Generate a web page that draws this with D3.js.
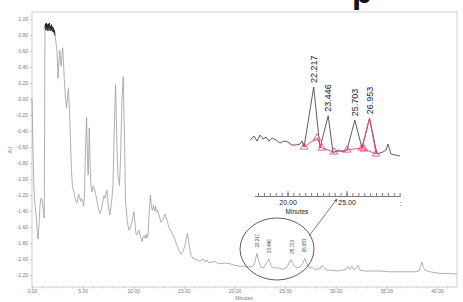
<!DOCTYPE html>
<html>
<head>
<meta charset="utf-8">
<script src="https://cdn.jsdelivr.net/npm/d3@7"></script>
<style>
  body { margin: 0; background: #fff; }
  svg { display: block; font-family: "Liberation Sans", Arial, sans-serif; }
</style>
</head>
<body>
<div id="chart"></div>
<script>
// full chromatogram, [minutes, AU]
let trace = [
  [0.00, 0.01], [0.10, -0.64], [0.20, -1.14], [0.30, -1.33], [0.40, -1.45], [0.49, -1.61],
  [0.59, -1.75], [0.69, -1.58], [0.79, -1.33], [0.89, -1.24], [0.99, -1.26], [1.09, -1.36],
  [1.21, -1.49], [1.28, 0.89], [1.33, 0.94], [1.38, 0.86], [1.43, 0.95], [1.48, 0.88],
  [1.53, 0.93], [1.58, 0.85], [1.63, 0.94], [1.68, 0.89], [1.73, 0.95], [1.78, 0.86],
  [1.83, 0.91], [1.88, 0.85], [1.93, 0.93], [1.98, 0.88], [2.02, 0.90], [2.07, 0.84],
  [2.12, 0.89], [2.17, 0.83], [2.22, 0.86], [2.27, 0.79], [2.37, 0.71], [2.47, 0.59],
  [2.57, 0.26], [2.67, 0.49], [2.74, 0.61], [2.81, 0.51], [2.88, 0.41], [2.96, 0.55],
  [3.03, 0.64], [3.11, 0.46], [3.19, 0.24], [3.29, 0.05], [3.41, -0.11], [3.49, -0.01],
  [3.60, 0.13], [3.70, -0.14], [3.80, -0.51], [3.90, -0.89], [4.00, -1.11], [4.10, -1.14],
  [4.20, -1.21], [4.30, -1.26], [4.40, -1.30], [4.49, -1.28], [4.59, -1.19], [4.69, -1.21],
  [4.79, -1.28], [4.89, -1.25], [4.99, -1.26], [5.09, -1.34], [5.19, -1.20], [5.28, -0.64],
  [5.39, -0.23], [5.48, -0.76], [5.55, -0.95], [5.66, -0.36], [5.75, -0.83], [5.83, -1.11],
  [5.93, -1.16], [6.02, -1.09], [6.12, -1.11], [6.22, -1.15], [6.32, -1.21], [6.42, -1.28],
  [6.52, -1.35], [6.62, -1.40], [6.72, -1.43], [6.81, -1.39], [6.91, -1.34], [7.01, -1.26],
  [7.11, -1.21], [7.21, -1.24], [7.31, -1.18], [7.41, -1.14], [7.51, -1.29], [7.60, -1.39],
  [7.70, -1.45], [7.80, -1.34], [7.90, -1.24], [8.00, -1.08], [8.10, -0.51], [8.25, 0.18],
  [8.40, -0.64], [8.49, -0.95], [8.64, -1.08], [8.74, -0.76], [8.89, -0.01], [9.01, 0.28],
  [9.14, -0.51], [9.23, -1.26], [9.38, -1.48], [9.48, -1.58], [9.58, -1.64], [9.68, -1.61],
  [9.78, -1.58], [9.88, -1.54], [9.98, -1.46], [10.07, -1.41], [10.17, -1.54], [10.27, -1.69],
  [10.37, -1.70], [10.47, -1.66], [10.57, -1.64], [10.67, -1.70], [10.77, -1.74], [10.86, -1.78],
  [10.96, -1.74], [11.06, -1.71], [11.16, -1.74], [11.26, -1.69], [11.36, -1.74], [11.46, -1.70],
  [11.56, -1.45], [11.70, -1.20], [11.80, -1.36], [11.90, -1.39], [12.00, -1.33], [12.10, -1.40],
  [12.20, -1.34], [12.30, -1.41], [12.40, -1.39], [12.54, -1.45], [12.74, -1.54], [12.94, -1.51],
  [13.14, -1.44], [13.33, -1.51], [13.53, -1.61], [13.73, -1.65], [13.93, -1.70], [14.12, -1.76],
  [14.32, -1.83], [14.52, -1.89], [14.72, -1.94], [14.91, -1.91], [15.11, -1.83], [15.36, -1.68],
  [15.56, -1.86], [15.70, -1.95], [15.90, -1.99], [16.10, -2.00], [16.30, -2.01], [16.59, -2.03],
  [16.89, -2.00], [17.09, -2.04], [17.28, -2.01], [17.48, -2.05], [17.78, -2.04], [18.07, -2.03],
  [18.27, -2.05], [18.57, -2.06], [19.06, -2.05], [19.56, -2.06], [20.05, -2.08], [20.54, -2.09],
  [21.04, -2.09], [21.53, -2.10], [21.83, -2.09], [22.02, -2.04], [22.22, -1.93], [22.42, -2.04],
  [22.62, -2.10], [22.91, -2.11], [23.21, -2.04], [23.41, -2.00], [23.60, -2.08], [23.80, -2.11],
  [24.30, -2.11], [24.79, -2.13], [25.19, -2.10], [25.38, -2.05], [25.58, -2.01], [25.78, -2.06],
  [26.07, -2.11], [26.47, -2.10], [26.77, -2.05], [26.96, -1.99], [27.16, -2.06], [27.36, -2.11],
  [27.75, -2.11], [28.05, -2.14], [28.25, -2.11], [28.44, -2.13], [28.64, -2.08], [28.84, -2.11],
  [29.14, -2.14], [29.63, -2.14], [30.12, -2.15], [30.62, -2.14], [31.01, -2.13], [31.21, -2.09],
  [31.41, -2.13], [31.60, -2.09], [31.80, -2.14], [32.00, -2.11], [32.20, -2.08], [32.40, -2.14],
  [32.89, -2.15], [33.38, -2.15], [34.37, -2.15], [35.36, -2.16], [36.35, -2.16], [37.33, -2.16],
  [37.83, -2.16], [38.22, -2.15], [38.42, -2.08], [38.52, -2.04], [38.62, -2.09], [38.81, -2.14],
  [39.31, -2.16], [40.30, -2.18], [41.28, -2.18], [41.98, -2.19]
];

// expanded 17-30 min region (inset)
let insetTrace = [
  [16.82, -2.090], [17.16, -2.078], [17.42, -2.093], [17.67, -2.075], [17.92, -2.087],
  [18.18, -2.081], [18.43, -2.093], [18.69, -2.084], [19.03, -2.090], [19.36, -2.099],
  [19.70, -2.093], [20.04, -2.096], [20.38, -2.105], [20.72, -2.105], [21.06, -2.102],
  [21.23, -2.093], [21.40, -2.111], [22.217, -1.930], [22.75, -2.114], [23.446, -2.017],
  [23.86, -2.129], [24.28, -2.120], [24.70, -2.126], [25.04, -2.120], [25.703, -2.030],
  [26.31, -2.114], [26.953, -2.024], [27.58, -2.132], [28.09, -2.126], [28.35, -2.120],
  [28.52, -2.102], [28.77, -2.132], [29.11, -2.135], [29.53, -2.138]
];

// integration baseline points (triangles)
let insetBaseline = [
  [21.40, -2.111], [22.50, -2.084], [22.92, -2.114], [23.94, -2.126],
  [25.04, -2.120], [26.31, -2.114], [26.48, -2.117], [27.50, -2.132]
];

// last peak is redrawn in the integration colour
let insetPink = [[26.31, -2.114], [26.953, -2.024], [27.50, -2.132]];

let peakTimes = [22.217, 23.446, 25.703, 26.953];
let peakLabels = ['22.217', '23.446', '25.703', '26.953'];
let peakMain = [-1.93, -2.00, -2.01, -1.99];
let peakInset = [-1.930, -2.017, -2.030, -2.024];

let yTicks = [1.0, 0.8, 0.6, 0.4, 0.2, 0.0, -0.2, -0.4, -0.6, -0.8, -1.0, -1.2, -1.4, -1.6, -1.8, -2.0, -2.2];
let xTicks = [0, 5, 10, 15, 20, 25, 30, 35, 40];
let insetTicks = [20, 25];

const PINK = '#e4427a';
const FONT = '"Liberation Sans", Arial, sans-serif';

let svg = d3.select('#chart').append('svg')
    .attr('width', 463)
    .attr('height', 302);

let x = d3.scaleLinear().domain([0, 41.98]).range([32, 457]);
let y = d3.scaleLinear().domain([-2.35, 1.0875]).range([287, 12]);

// cropped title above the plot
svg.append('text')
    .attr('x', 352)
    .attr('y', 3)
    .attr('font-size', 33)
    .attr('font-weight', 'bold')
    .attr('fill', '#111')
    .text('p');

// frame
svg.append('rect')
    .attr('x', x.range()[0])
    .attr('y', y.range()[1])
    .attr('width', x.range()[1] - x.range()[0])
    .attr('height', y.range()[0] - y.range()[1])
    .attr('fill', 'none')
    .attr('stroke', '#c4c4c4')
    .attr('stroke-width', 0.8);

function styleAxis(g, size, color) {
  g.attr('font-family', FONT);
  g.select('.domain').remove();
  g.selectAll('text').attr('font-size', size).attr('fill', color);
  g.selectAll('line').attr('stroke', '#b0b0b0').attr('stroke-width', 0.6);
}

svg.append('g')
    .attr('transform', 'translate(32,0)')
    .call(d3.axisLeft(y).tickValues(yTicks).tickSize(2).tickPadding(2).tickFormat((d) => d.toFixed(2)))
    .call((g) => styleAxis(g, 5, '#7a7a7a'));

svg.append('g')
    .attr('transform', 'translate(0,287)')
    .call(d3.axisBottom(x).tickValues(d3.range(0, 42, 1)).tickSize(1.5).tickFormat(''))
    .call((g) => styleAxis(g, 5, '#7a7a7a'));

svg.append('g')
    .attr('transform', 'translate(0,287)')
    .call(d3.axisBottom(x).tickValues(xTicks).tickSize(2).tickPadding(0.5).tickFormat((d) => d.toFixed(2)))
    .call((g) => styleAxis(g, 5, '#7a7a7a'));

svg.append('text')
    .attr('x', 244)
    .attr('y', 300)
    .attr('text-anchor', 'middle')
    .attr('font-size', 5)
    .attr('fill', '#7a7a7a')
    .text('Minutes');

svg.append('text')
    .attr('transform', 'translate(12,150) rotate(-90)')
    .attr('text-anchor', 'middle')
    .attr('font-size', 5)
    .attr('fill', '#7a7a7a')
    .text('AU');

// main trace
let line = d3.line()
    .x((d) => x(d[0]))
    .y((d) => y(d[1]));

svg.append('path')
    .datum(trace)
    .attr('d', line)
    .attr('fill', 'none')
    .attr('stroke', '#9c9c9c')
    .attr('stroke-width', 0.8)
    .attr('stroke-linejoin', 'round');

// saturated part reads darker
svg.append('path')
    .datum(trace.filter((d) => d[0] >= 1.28 && d[0] <= 2.27))
    .attr('d', line)
    .attr('fill', 'none')
    .attr('stroke', '#222')
    .attr('stroke-width', 0.9);

// small peak labels on the main trace
svg.selectAll('.main-label')
    .data(peakTimes)
    .enter()
    .append('text')
    .attr('class', 'main-label')
    .attr('transform', (d, i) => `translate(${x(d) + 1.6},${y(peakMain[i]) - 6}) rotate(-90)`)
    .attr('font-size', 4.5)
    .attr('fill', '#444')
    .text((d, i) => peakLabels[i]);

// circled region + pointer to inset
svg.append('ellipse')
    .attr('cx', 277)
    .attr('cy', 249)
    .attr('rx', 37)
    .attr('ry', 31)
    .attr('fill', 'none')
    .attr('stroke', '#333')
    .attr('stroke-width', 0.8);

svg.append('defs').append('marker')
    .attr('id', 'arrow')
    .attr('viewBox', '0 0 10 10')
    .attr('refX', 9)
    .attr('refY', 5)
    .attr('markerWidth', 4)
    .attr('markerHeight', 4)
    .attr('orient', 'auto')
    .append('path')
    .attr('d', 'M0,0L10,5L0,10z')
    .attr('fill', '#4d5280');

svg.append('line')
    .attr('x1', 309)
    .attr('y1', 236)
    .attr('x2', 337)
    .attr('y2', 199)
    .attr('stroke', '#4d5280')
    .attr('stroke-width', 0.8)
    .attr('marker-end', 'url(#arrow)');

// ---- inset ----
let xi = d3.scaleLinear().domain([17.2, 29.55]).range([254.5, 400.2]);
let yi = d3.scaleLinear().domain([-2.12, -1.93]).range([150, 87]);

let insetLine = d3.line()
    .x((d) => xi(d[0]))
    .y((d) => yi(d[1]));

let inset = svg.append('g');

inset.append('g')
    .attr('transform', 'translate(0,196)')
    .call(d3.axisBottom(xi).tickValues(d3.range(17.5, 29.6, 0.5)).tickSize(-3).tickSizeOuter(0).tickFormat(''))
    .call((g) => g.selectAll('line, .domain').attr('stroke', '#444').attr('stroke-width', 0.7));

inset.append('g')
    .attr('transform', 'translate(0,196)')
    .call(d3.axisBottom(xi).tickValues(insetTicks).tickSize(-5).tickPadding(4).tickSizeOuter(0).tickFormat((d) => d.toFixed(2)))
    .call((g) => {
      g.attr('font-family', FONT);
      g.select('.domain').remove();
      g.selectAll('line').attr('stroke', '#444').attr('stroke-width', 0.7);
      g.selectAll('text').attr('font-size', 7).attr('fill', '#222');
    });

inset.append('text')
    .attr('x', xi(29.6))
    .attr('y', 206)
    .attr('text-anchor', 'middle')
    .attr('font-size', 7)
    .attr('fill', '#222')
    .text(':');

inset.append('text')
    .attr('x', 297)
    .attr('y', 214)
    .attr('text-anchor', 'middle')
    .attr('font-size', 6.5)
    .attr('fill', '#222')
    .text('Minutes');

inset.append('path')
    .datum(insetTrace)
    .attr('d', insetLine)
    .attr('fill', 'none')
    .attr('stroke', '#333')
    .attr('stroke-width', 0.8);

inset.append('path')
    .datum(insetBaseline)
    .attr('d', insetLine)
    .attr('fill', 'none')
    .attr('stroke', PINK)
    .attr('stroke-width', 0.9);

inset.append('path')
    .datum(insetPink)
    .attr('d', insetLine)
    .attr('fill', 'none')
    .attr('stroke', PINK)
    .attr('stroke-width', 0.9);

inset.selectAll('.tri')
    .data(insetBaseline)
    .enter()
    .append('path')
    .attr('class', 'tri')
    .attr('transform', (d) => `translate(${xi(d[0])},${yi(d[1])})`)
    .attr('d', d3.symbol().type(d3.symbolTriangle).size(24))
    .attr('fill', 'none')
    .attr('stroke', PINK)
    .attr('stroke-width', 0.8);

inset.selectAll('.peak-label')
    .data(peakTimes)
    .enter()
    .append('text')
    .attr('class', 'peak-label')
    .attr('transform', (d, i) => `translate(${xi(d) + 3.3},${yi(peakInset[i]) - 4}) rotate(-90)`)
    .attr('font-size', 9)
    .attr('fill', '#222')
    .text((d, i) => peakLabels[i]);
</script>
</body>
</html>
